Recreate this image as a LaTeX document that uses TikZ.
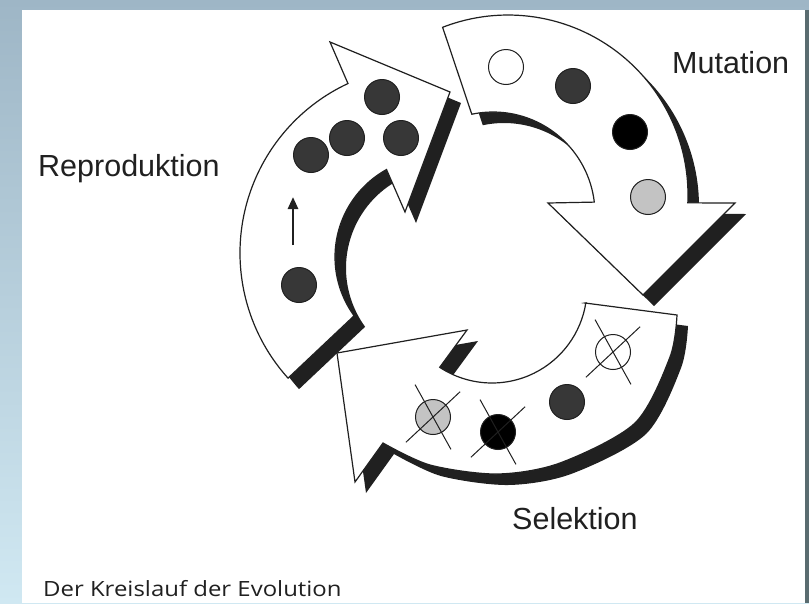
\documentclass[tikz,border=0pt]{standalone}
\usepackage{graphicx}
\usepackage{fontspec}
\setmainfont{Liberation Sans}
\newfontfamily\capfont{Open Sans}
\usepackage{tikz}
\usetikzlibrary{%
  arrows.meta,% Triangle tip
  calc,% wg. ($(a)+(b)$)
  positioning%
}

\definecolor{bgtop}{RGB}{158,182,198}
\definecolor{bgbot}{RGB}{208,232,242}
\definecolor{bgedge}{RGB}{90,108,112}
\definecolor{ink}{RGB}{32,32,32}
\definecolor{darkball}{RGB}{55,55,55}
\definecolor{lightball}{RGB}{195,195,195}

% outlines of the three arrows (pixel coordinates, y downwards)
\newcommand{\reproarrow}{($(427,253)+(138:187)$) arc[start angle=138, end angle=245, radius=187]
  -- (330,42) -- (450,92) -- (405,212)
  -- ($(435,257)+(241:100)$) arc[start angle=241, end angle=144, radius=100] -- cycle}
\newcommand{\mutarrow}{($(508,195)+(248.7:180)$) arc[start angle=248.7, end angle=362.5, radius=180]
  -- (735,203) -- (643,295) -- (548,203)
  -- ($(493,214)+(353.3:102)$) arc[start angle=353.3, end angle=258, radius=102] -- cycle}
\newcommand{\selarrow}{(585,303) -- plot[smooth] coordinates {(677,315) (670,357) (635,423) (560,463) (497,474) (430,465) (383,443)}
  -- (355,482) -- (337,353) -- (467,330)
  -- ($(492,288)+(123.4:95)$) arc[start angle=123.4, end angle=9, radius=95] -- cycle}

\begin{document}
\begin{tikzpicture}[
    x=1pt, y=-1pt,
    ball/.style={circle, minimum size=35pt, inner sep=0pt, draw=ink, line width=1pt},
    band/.style={fill=ink},
    body/.style={fill=white, draw=ink, line width=1.2pt, line join=miter},
    strike/.style={draw=ink, line width=1pt, shorten <=-19pt, shorten >=-19pt},
    word/.style={inner sep=0pt, anchor=base west, text=ink, font=\fontsize{30.5}{36}\selectfont},
    tip/.style={-{Triangle[length=12pt, width=10pt]}, draw=ink, line width=2.6pt}
  ]
  % frame
  \shade[top color=bgtop, bottom color=bgbot] (0,0) rectangle (809,603);
  \fill[white] (22,10) rectangle (805,603);
  \fill[bgedge] (805,10) rectangle (809,603);
  \useasboundingbox (0,0) rectangle (809,603);

  % draw shadows
  \fill[band, shift={(11,11)}] \reproarrow;
  \fill[band, shift={(11,11)}] \mutarrow;
  \fill[band, shift={(11,11)}] \selarrow;

  % draw arrows
  \path[body] \reproarrow;
  \path[body] \mutarrow;
  \path[body] \selarrow;

  % draw balls
  \foreach \n/\x/\y in {11/382/97, 12/347/138, 13/401/138, 14/311/155, 15/299/285}{
    \node[ball, fill=darkball] at (\x,\y) (\n) {};}
  \node[ball, fill=white] at (506,67) (21) {};
  \node[ball, fill=darkball] at (573,86) (22) {};
  \node[ball, fill=black] at (630,132) (23) {};
  \node[ball, fill=lightball] at (648,197) (24) {};
  \node[ball, fill=lightball] at (433,417) (31) {};
  \node[ball, fill=black] at (498,432) (32) {};
  \node[ball, fill=darkball] at (567,402) (33) {};
  \node[ball, fill=white] at (613,352) (34) {};

  % strike out the losers
  \foreach \n in {31,32,34}{
    \draw[strike] (\n.119.4) -- (\n.299.4);
    \draw[strike] (\n.223.9) -- (\n.43.9);}

  % growth arrow
  \coordinate (g0) at (293,245);
  \coordinate (g1) at (293,197);
  \draw[tip] (g0) -- (g1);

  % labels
  \node[word] at (38,176) (rep) {Reproduktion};
  \node[word] at (672,73) (mut) {Mutation};
  \node[word] at (512,529) (sel) {Selektion};
  \node[inner sep=0pt, anchor=base west, text=ink] at (43,596) (cap)
    {\scalebox{1.14}[1]{\capfont\fontsize{21}{24}\selectfont Der Kreislauf der Evolution}};
\end{tikzpicture}
\end{document}
